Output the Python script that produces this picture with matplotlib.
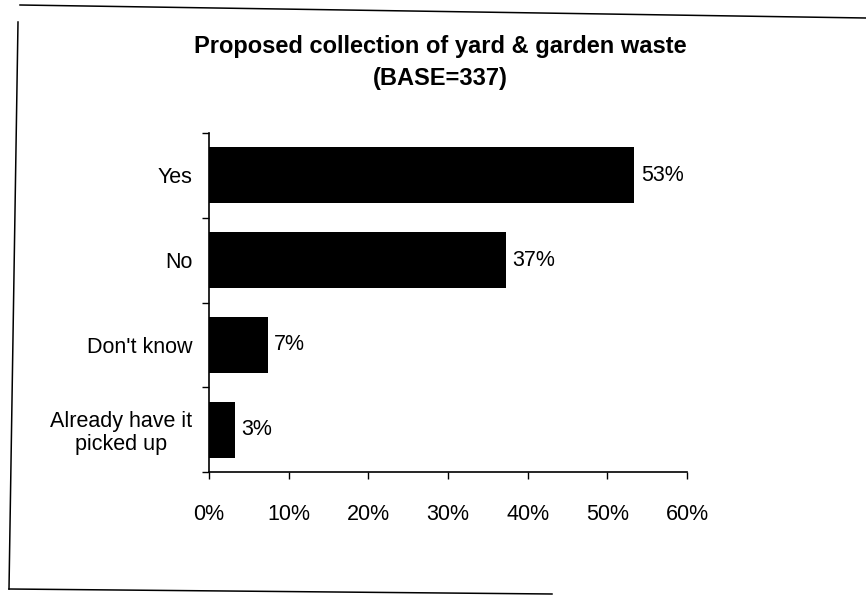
import matplotlib
matplotlib.use("Agg")
import matplotlib.pyplot as plt
from matplotlib.lines import Line2D

categories = ["Yes", "No", "Don't know", "Already have it\npicked up"]
values = [53.4, 37.3, 7.4, 3.3]
xticks = [0, 10, 20, 30, 40, 50, 60]
title = "Proposed collection of yard & garden waste\n(BASE=337)"

plt.rcParams['font.family'] = ['Liberation Sans', 'DejaVu Sans']

W, H = 866, 596
fig = plt.figure(figsize=(W / 100, H / 100), dpi=100)
ax = fig.add_axes([209 / W, 1 - 472 / H, (687 - 209) / W, (472 - 133) / H])

n = len(categories)
ypos = list(range(n))
ax.barh(ypos, values, height=0.66, color='black')
ax.set_ylim(n - 0.5, -0.5)
ax.set_xlim(0, 60)

ax.set_xticks(xticks)
ax.set_xticklabels([f"{t}%" for t in xticks], fontsize=15.5)
ax.tick_params(axis='x', direction='out', length=5, width=1, pad=18)

ax.set_yticks([i - 0.5 for i in range(n + 1)], minor=False)
ax.set_yticklabels([])
ax.set_yticks(ypos, minor=True)
ax.set_yticklabels(categories, minor=True, fontsize=15.5, ha='right',
                   multialignment='center', linespacing=1.1)
ax.tick_params(axis='y', which='major', direction='out', length=5, width=1)
ax.tick_params(axis='y', which='minor', length=0, pad=12)

for s in ['top', 'right']:
    ax.spines[s].set_visible(False)
for s in ['left', 'bottom']:
    ax.spines[s].set_linewidth(1.2)

for y, v in zip(ypos, values):
    ax.text(v + 0.8, y, f"{v:.0f}%", va='center', ha='left', fontsize=15.5)

fig.text(440 / W, 1 - 62 / H, title, ha='center', va='center',
         fontsize=17, fontweight='bold', linespacing=1.5)

def fl(xs, ys, lw=1.1):
    fig.add_artist(Line2D([x / W for x in xs], [1 - y / H for y in ys],
                          transform=fig.transFigure, color='black', lw=lw))

fl([20, 866], [5, 18])
fl([18, 9], [22, 589])
fl([9, 552], [589, 594])

fig.savefig("out.png", dpi=100, facecolor='white')
